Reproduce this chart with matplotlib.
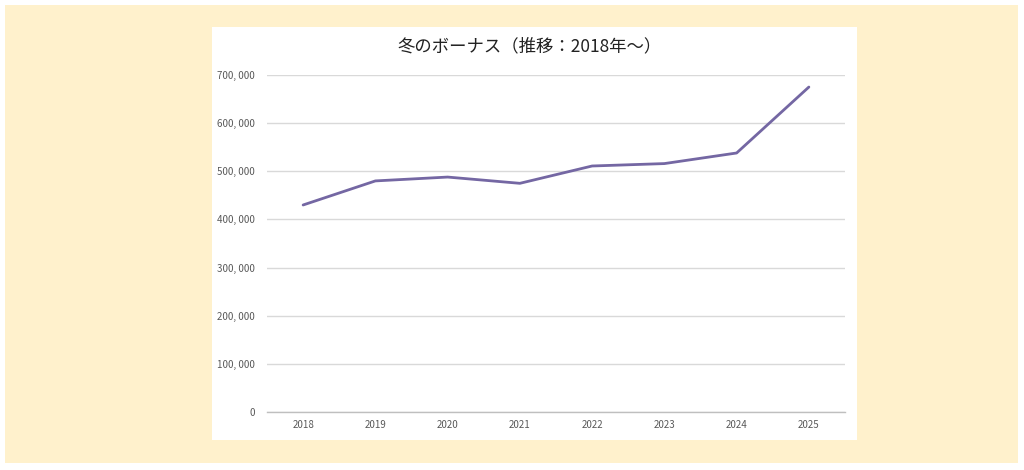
import matplotlib.pyplot as plt
from matplotlib.patches import Rectangle
from matplotlib.ticker import FuncFormatter

years = ['2018', '2019', '2020', '2021', '2022', '2023', '2024', '2025']
bonus = [430000, 480000, 488000, 475000, 511000, 516000, 538000, 675000]
yticks = [0, 100000, 200000, 300000, 400000, 500000, 600000, 700000]

plt.rcParams['font.family'] = ['Noto Sans CJK JP', 'DejaVu Sans']

W, H = 1024, 470
fig = plt.figure(figsize=(W / 100, H / 100), dpi=100)
fig.patch.set_facecolor('white')

# yellow backdrop and white chart panel (pixel boxes -> figure coords)
def box(x0, y0, x1, y1, color):
    fig.patches.append(Rectangle((x0 / W, 1 - y1 / H), (x1 - x0) / W, (y1 - y0) / H,
                                 transform=fig.transFigure, facecolor=color,
                                 edgecolor='none', zorder=-2))

box(5, 5, 1018, 463, '#FFF1CC')
box(212, 27, 857, 440, 'white')

ax = fig.add_axes([267 / W, 1 - 412 / H, (845 - 267) / W, (412 - 75) / H])
ax.set_facecolor('none')
ax.set_zorder(2)

x = range(len(years))
ax.plot(x, bonus, color='#7467A3', lw=2.0, solid_capstyle='round', zorder=3)

ax.set_xlim(-0.5, len(years) - 0.5)
ax.set_ylim(0, 700000)
ax.set_yticks(yticks)
ax.yaxis.set_major_formatter(FuncFormatter(lambda v, p: '{:,}'.format(int(v)).replace(',', ', ')))
ax.set_xticks(list(x))
ax.set_xticklabels(years)

ax.grid(axis='y', color='#D9D9D9', lw=1)
ax.axhline(0, color='#BFBFBF', lw=1, clip_on=False, zorder=1)
ax.set_axisbelow(True)
for s in ax.spines.values():
    s.set_visible(False)
ax.tick_params(length=0, labelsize=7, labelcolor='#595959')
ax.tick_params(axis='y', pad=9)
ax.tick_params(axis='x', pad=6)

fig.text(530 / W, 1 - 46 / H, '冬のボーナス（推移：2018年～）', ha='center', va='center',
         fontsize=12.5, color='#222222', zorder=3)

fig.savefig('out.png', dpi=100)
